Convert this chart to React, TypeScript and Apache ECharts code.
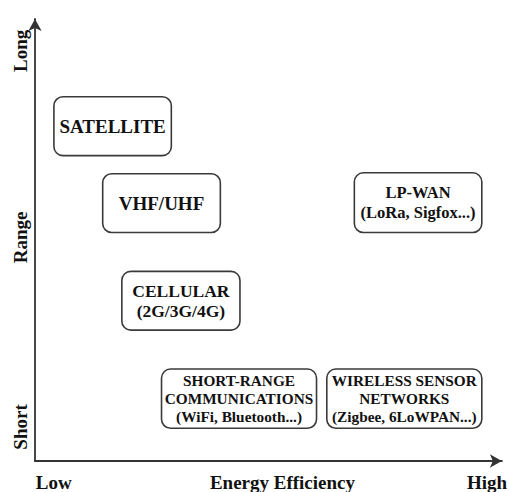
import React, { useEffect, useRef } from "react";
import * as echarts from "echarts";

// Axis tick labels (positions on a 0–100 conceptual scale)
const xTickValues = [4, 53, 96.8];
const xTickLabels = ["Low", "Energy Efficiency", "High"];
const yTickValues = [7.7, 50.6, 92.8];
const yTickLabels = ["Short", "Range", "Long"];

// Technology boxes: energy-efficiency extent (x) and range extent (y)
const boxLabels = [
  "SATELLITE",
  "VHF/UHF",
  "LP-WAN\n(LoRa, Sigfox...)",
  "CELLULAR\n(2G/3G/4G)",
  "SHORT-RANGE\nCOMMUNICATIONS\n(WiFi, Bluetooth...)",
  "WIRELESS SENSOR\nNETWORKS\n(Zigbee, 6LoWPAN...)",
];
const boxX0 = [4.05, 14.5, 68.4, 18.6, 27.1, 62.5];
const boxX1 = [29.2, 39.7, 95.7, 43.9, 60.3, 95.7];
const boxY0 = [69.1, 51.7, 51.7, 29.6, 7.4, 7.4];
const boxY1 = [82.4, 65.0, 65.2, 42.9, 20.8, 20.8];

const boxFont = [19, 19, 16.5, 17.5, 15.3, 15.3];
const boxLine = [20, 20, 20, 20, 18, 18];

export default function App() {
  const ref = useRef<HTMLDivElement>(null);
  useEffect(() => {
    document.body.style.margin = "0";
    if (!ref.current) return;
    const chart = echarts.init(ref.current, null, { renderer: "svg" });
    const data = boxLabels.map((_, i) => [boxX0[i], boxX1[i], boxY0[i], boxY1[i]]);
    const labelFont = {
      fontFamily: "Liberation Serif",
      fontWeight: "bold" as const,
      fontSize: 19,
      color: "#111",
    };
    chart.setOption({
      animation: false,
      backgroundColor: "#fff",
      grid: { left: 35, right: 6, top: 19, bottom: 30, containLabel: false },
      xAxis: {
        type: "value",
        min: 0,
        max: 100,
        splitLine: { show: false },
        axisTick: { show: false },
        axisLine: {
          show: true,
          symbol: ["none", "arrow"],
          symbolSize: [10, 12],
          lineStyle: { color: "#333", width: 1.8 },
        },
        axisLabel: {
          ...labelFont,
          margin: 12,
          customValues: xTickValues,
          formatter: (v: number) => {
            const i = xTickValues.findIndex((t) => Math.abs(t - v) < 1e-6);
            return i >= 0 ? xTickLabels[i] : "";
          },
        },
      },
      yAxis: {
        type: "value",
        min: 0,
        max: 100,
        splitLine: { show: false },
        axisTick: { show: false },
        axisLine: {
          show: true,
          symbol: ["none", "arrow"],
          symbolSize: [10, 12],
          lineStyle: { color: "#333", width: 1.8 },
        },
        axisLabel: {
          ...labelFont,
          rotate: 90,
          margin: 5,
          customValues: yTickValues,
          formatter: (v: number) => {
            const i = yTickValues.findIndex((t) => Math.abs(t - v) < 1e-6);
            return i >= 0 ? yTickLabels[i] : "";
          },
        },
      },
      series: [
        {
          type: "custom",
          data,
          encode: { x: [0, 1], y: [2, 3] },
          renderItem: (params: any, api: any) => {
            const i = params.dataIndex;
            const p0 = api.coord([api.value(0), api.value(3)]);
            const p1 = api.coord([api.value(1), api.value(2)]);
            const w = p1[0] - p0[0];
            const h = p1[1] - p0[1];
            return {
              type: "group",
              children: [
                {
                  type: "rect",
                  shape: { x: p0[0], y: p0[1], width: w, height: h, r: 9 },
                  style: { fill: "#fff", stroke: "#3a3a3a", lineWidth: 1.6 },
                },
                {
                  type: "text",
                  style: {
                    text: boxLabels[i],
                    x: p0[0] + w / 2,
                    y: p0[1] + h / 2,
                    align: "center",
                    verticalAlign: "middle",
                    fontFamily: "Liberation Serif",
                    fontWeight: "bold",
                    fontSize: boxFont[i],
                    lineHeight: boxLine[i],
                    fill: "#111",
                  },
                },
              ],
            };
          },
        },
      ],
    });
    return () => chart.dispose();
  }, []);
  return <div ref={ref} style={{ width: 510, height: 492 }} />;
}
